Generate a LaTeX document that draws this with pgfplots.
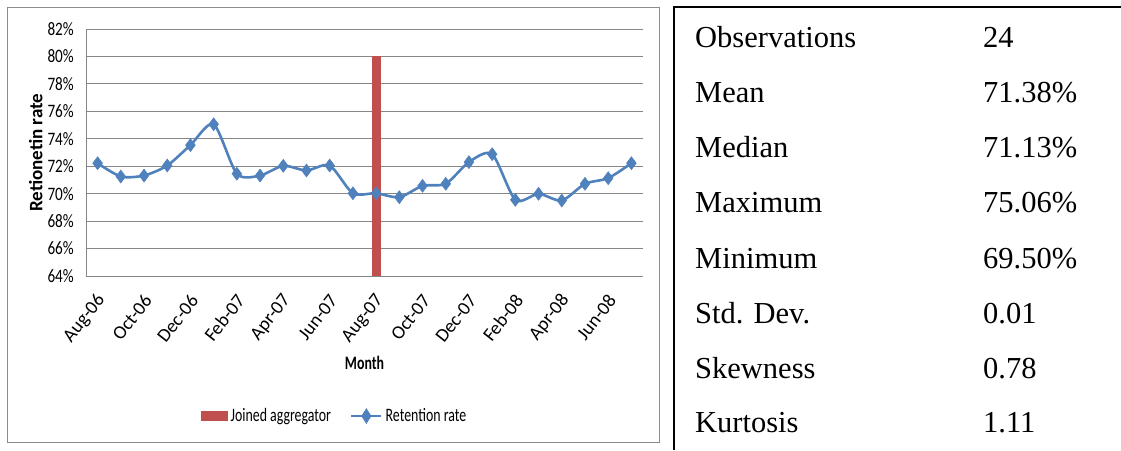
\documentclass[border=0pt]{standalone}
\usepackage{pgfplots}
\pgfplotsset{compat=1.18}
\usepackage{fontspec}
\setmainfont{Liberation Serif}
\newfontfamily\chartfont[FakeStretch=0.8]{Carlito}
\newfontfamily\chartfontc[FakeStretch=0.73]{Carlito}
\newfontfamily\chartfontn{Carlito}
\definecolor{barred}{RGB}{192,80,77}
\definecolor{lineblue}{RGB}{79,129,189}
\definecolor{gridgray}{RGB}{134,134,134}
\definecolor{framegray}{RGB}{140,140,140}
\begin{document}
\begin{tikzpicture}[x=1pt,y=1pt]
\useasboundingbox (0,0) rectangle (1121,450);
\fill[white] (0,0) rectangle (1121,450);
% chart frame
\draw[framegray, line width=1pt] (7,8) rectangle (659,442);
\begin{axis}[
  at={(86pt,174pt)}, anchor=south west,
  width=557pt, height=247pt, scale only axis,
  xmin=-0.5, xmax=23.5, ymin=64, ymax=82,
  axis x line*=bottom, axis y line*=left,
  axis line style={gridgray, line width=1pt, -},
  ytick={64,66,...,82},
  yticklabels={64\%,66\%,68\%,70\%,72\%,74\%,76\%,78\%,80\%,82\%},
  ymajorgrids, grid style={gridgray, line width=1pt},
  major tick length=0pt,
  xtick={0,2,...,22},
  xticklabels={Aug-06,Oct-06,Dec-06,Feb-07,Apr-07,Jun-07,Aug-07,Oct-07,Dec-07,Feb-08,Apr-08,Jun-08},
  x tick label style={xshift=4pt, rotate=52, anchor=east, font=\chartfontn\fontsize{19}{22}\selectfont, inner sep=0pt},
  xticklabel shift=21pt,
  y tick label style={font=\chartfont\fontsize{19}{22}\selectfont, inner sep=0pt},
  yticklabel shift=12pt,
  ylabel={Retionetin rate},
  xlabel={Month},
  every axis y label/.style={at={(axis description cs:-0.09,0.5)}, rotate=90, anchor=center, font=\chartfontn\bfseries\fontsize{19}{22}\selectfont},
  every axis x label/.style={at={(axis description cs:0.5,-0.352)}, anchor=center, font=\chartfontc\bfseries\fontsize{19}{22}\selectfont},
  legend columns=2,
  legend style={at={(axis description cs:0.447,-0.567)}, anchor=center, draw=none, fill=none,
    font=\chartfontc\fontsize{19}{22}\selectfont,
    nodes={inner xsep=3pt, inner ysep=1.5pt},
    /tikz/every even column/.append style={column sep=16pt}},
  clip=true,
]
\addplot[ybar, bar width=9pt, bar shift=0pt, fill=barred, draw=none,
  legend image code/.code={\fill[barred] (0pt,-5pt) rectangle (27pt,5pt);}]
  coordinates {(12,80)};
\addlegendentry{Joined aggregator}
\addplot[lineblue, line width=2.6pt, smooth, tension=0.45, mark=diamond*, mark size=6.5pt,
  mark options={fill=lineblue, draw=lineblue, line width=0.5pt},
  legend image code/.code={\draw[lineblue, line width=2.6pt] (0pt,0pt) -- (30pt,0pt);
     \fill[lineblue] (15pt,0pt) +(0,5.5pt) -- +(3.5pt,0) -- +(0,-5.5pt) -- +(-3.5pt,0) -- cycle;}]
  coordinates {
  (0,72.22) (1,71.25) (2,71.32) (3,72.05) (4,73.54) (5,75.06)
  (6,71.45) (7,71.32) (8,72.03) (9,71.69) (10,72.05) (11,70.03)
  (12,70.03) (13,69.74) (14,70.57) (15,70.72) (16,72.30) (17,72.88)
  (18,69.55) (19,69.99) (20,69.50) (21,70.72) (22,71.13) (23,72.22)};
\addlegendentry{Retention rate}
\end{axis}
% statistics table
\draw[black, line width=1.5pt] (674,0) -- (674,443) -- (1121,443);
\begin{scope}[every node/.style={anchor=mid west, inner sep=0pt, font=\fontsize{30.5}{36}\selectfont}]
\node at (695,405) {Observations}; \node at (983,405) {24};
\node at (695,350) {Mean};         \node at (983,350) {71.38\%};
\node at (695,295) {Median};       \node at (983,295) {71.13\%};
\node at (695,240) {Maximum};      \node at (983,240) {75.06\%};
\node at (695,184) {Minimum};      \node at (983,184) {69.50\%};
\node at (695,129) {Std. Dev.};    \node at (983,129) {0.01};
\node at (695,74)  {Skewness};     \node at (983,74)  {0.78};
\node at (695,20)  {Kurtosis};     \node at (983,20)  {1.11};
\end{scope}
\end{tikzpicture}
\end{document}
